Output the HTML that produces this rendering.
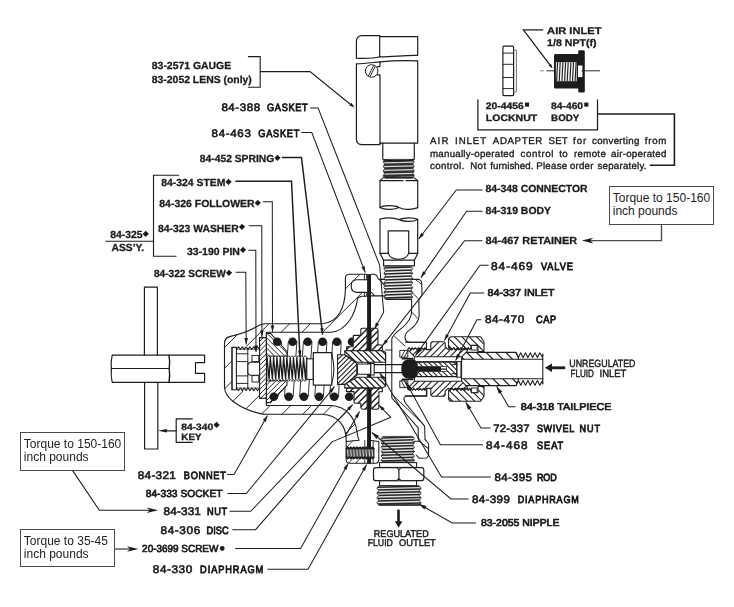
<!DOCTYPE html>
<html lang="en">
<head>
<meta charset="utf-8">
<title>Fluid Regulator Parts Diagram</title>
<style>
html,body{margin:0;padding:0;background:#fff;}
body{width:734px;height:607px;overflow:hidden;position:relative;font-family:"Liberation Sans",sans-serif;}
svg{display:block;position:absolute;left:0;top:0;}
.tq{position:absolute;box-sizing:border-box;border:1.1px solid #4a4a4a;background:#fff;}
.tq p{position:absolute;left:3px;margin:0;white-space:nowrap;font-size:12px;color:#222;}
text{white-space:pre;text-rendering:geometricPrecision;}
</style>
</head>
<body>
<svg width="734" height="607" viewBox="0 0 734 607">
<rect x="0" y="0" width="734" height="607" fill="#ffffff"/>
<g id="diagram" style="opacity:0.999">
<path d="M356.4,58.2 L356.4,41.5 Q356.4,35.8 362.5,35.7 L379.7,35.7 L379.7,36.6 L417.7,36.6 L417.7,55.4 C405,55.0 392,57.0 379.7,56.8 C372,58.8 364,58.6 356.4,58.2 Z" fill="none" stroke="#1c1c1c" stroke-width="1.18" stroke-linejoin="round" stroke-linecap="round" />
<path d="M379.7,36.0 L379.7,56.8" fill="none" stroke="#1c1c1c" stroke-width="1.18" stroke-linejoin="round" stroke-linecap="round" />
<path d="M356.4,63.8 C364,63.6 372,62.6 379.9,61.9 C392,60.6 405,60.4 417.7,60.9 L417.7,143.2 L380.0,143.2 L380.0,144.6 L362.0,144.6 Q356.4,144.4 356.4,139.0 Z" fill="none" stroke="#1c1c1c" stroke-width="1.18" stroke-linejoin="round" stroke-linecap="round" />
<path d="M380.0,62.0 L380.0,66.6 L377.0,66.6 M377.2,74.9 L380.0,74.9 L380.0,143.5" fill="none" stroke="#1c1c1c" stroke-width="1.18" stroke-linejoin="round" stroke-linecap="round" />
<circle cx="371.6" cy="71.0" r="6.3" fill="#fff" stroke="#1c1c1c" stroke-width="1.0"/>
<path d="M368.6,75.6 L373.4,66.0 M370.2,76.4 L375.0,66.8" fill="none" stroke="#1c1c1c" stroke-width="0.94" stroke-linejoin="round" stroke-linecap="round" />
<path d="M382.8,143.2 L382.8,158.8 M414.3,143.2 L414.3,158.8" fill="none" stroke="#1c1c1c" stroke-width="1.18" stroke-linejoin="round" stroke-linecap="round" />
<clipPath id="v1"><path d="M384.6,159.4L383.2,161.7L384.6,164.1L383.2,166.4L384.6,168.7L383.2,171.0L384.6,173.3L383.2,175.7L384.6,178.0L412.8,178.0L414.2,175.7L412.8,173.3L414.2,171.0L412.8,168.7L414.2,166.4L412.8,164.0L414.2,161.7L412.8,159.4Z"/></clipPath>
<path d="M384.6,159.4L383.2,161.7L384.6,164.1L383.2,166.4L384.6,168.7L383.2,171.0L384.6,173.3L383.2,175.7L384.6,178.0L412.8,178.0L414.2,175.7L412.8,173.3L414.2,171.0L412.8,168.7L414.2,166.4L412.8,164.0L414.2,161.7L412.8,159.4Z" fill="#d8d8d8" stroke="#1c1c1c" stroke-width="0.8" stroke-linejoin="round"/>
<path d="M383.2,161.1L414.2,160.3M383.2,164.8L414.2,164.0M383.2,168.5L414.2,167.7M383.2,172.3L414.2,171.5M383.2,176.0L414.2,175.2M383.2,179.7L414.2,178.9" clip-path="url(#v1)" fill="none" stroke="#303030" stroke-width="2.50"/>
<path d="M384.6,177.7L412.8,177.7" fill="none" stroke="#1c1c1c" stroke-width="1.3"/>
<path d="M383.2,159.6 Q398.5,162.6 414.0,159.4" fill="none" stroke="#1c1c1c" stroke-width="1.18" stroke-linejoin="round" stroke-linecap="round" />
<path d="M383.4,177.6 L380.0,180.6 L380.0,207.6 M414.0,177.6 L417.7,180.6 L417.7,207.8" fill="none" stroke="#1c1c1c" stroke-width="1.18" stroke-linejoin="round" stroke-linecap="round" />
<path d="M380.0,180.6 L403,180.6 M406,180.6 L417.7,180.6" fill="none" stroke="#1c1c1c" stroke-width="1.18" stroke-linejoin="round" stroke-linecap="round" />
<path d="M380.0,207.6 C383,205.2 395,205.0 399.0,207.4 C404,210.2 413,209.8 417.7,207.6 M380.0,207.6 C384,210.0 394,210.0 399.0,207.4" fill="none" stroke="#1c1c1c" stroke-width="1.18" stroke-linejoin="round" stroke-linecap="round" />
<path d="M380.0,219.2 C386,217.6 394,217.8 399.2,219.6 C404,217.2 414,217.4 417.7,219.4 M399.2,219.6 C404,222.0 413,222.0 417.7,219.4" fill="none" stroke="#1c1c1c" stroke-width="1.18" stroke-linejoin="round" stroke-linecap="round" />
<path d="M380.0,219.2 L380.0,253.4 L383.6,260.2 L414.4,260.2 L417.7,253.4 L417.7,219.4" fill="none" stroke="#1c1c1c" stroke-width="1.18" stroke-linejoin="round" stroke-linecap="round" />
<path d="M380.0,253.4 L388.2,253.4 M408.7,253.4 L417.7,253.4" fill="none" stroke="#1c1c1c" stroke-width="1.18" stroke-linejoin="round" stroke-linecap="round" />
<path d="M388.2,253.4 L388.2,230.8 L408.7,230.8 L408.7,253.4" fill="none" stroke="#1c1c1c" stroke-width="1.18" stroke-linejoin="round" stroke-linecap="round" />
<path d="M388.2,253.4 C391,261.2 406,261.2 408.7,253.4" fill="none" stroke="#1c1c1c" stroke-width="1.18" stroke-linejoin="round" stroke-linecap="round" />
<path d="M383.6,260.2 L383.6,265.8 L414.4,265.8 L414.4,260.2" fill="none" stroke="#1c1c1c" stroke-width="1.18" stroke-linejoin="round" stroke-linecap="round" />
<clipPath id="v2"><path d="M385.7,266.3L383.8,268.7L385.7,271.0L383.8,273.4L385.7,275.8L383.8,278.2L385.7,280.5L383.8,282.9L385.7,285.3L383.8,287.6L385.7,290.0L383.8,292.4L385.7,294.8L383.8,297.1L385.7,299.5L410.9,299.5L412.8,297.1L410.9,294.8L412.8,292.4L410.9,290.0L412.8,287.6L410.9,285.3L412.8,282.9L410.9,280.5L412.8,278.2L410.9,275.8L412.8,273.4L410.9,271.0L412.8,268.7L410.9,266.3Z"/></clipPath>
<path d="M385.7,266.3L383.8,268.7L385.7,271.0L383.8,273.4L385.7,275.8L383.8,278.2L385.7,280.5L383.8,282.9L385.7,285.3L383.8,287.6L385.7,290.0L383.8,292.4L385.7,294.8L383.8,297.1L385.7,299.5L410.9,299.5L412.8,297.1L410.9,294.8L412.8,292.4L410.9,290.0L412.8,287.6L410.9,285.3L412.8,282.9L410.9,280.5L412.8,278.2L410.9,275.8L412.8,273.4L410.9,271.0L412.8,268.7L410.9,266.3Z" fill="#f2f2f2" stroke="#1c1c1c" stroke-width="0.8" stroke-linejoin="round"/>
<path d="M383.8,267.9L412.8,266.9M383.8,270.9L412.8,269.9M383.8,273.9L412.8,272.9M383.8,276.9L412.8,275.9M383.8,279.9L412.8,278.9M383.8,282.9L412.8,281.9M383.8,286.0L412.8,285.0M383.8,289.0L412.8,288.0M383.8,292.0L412.8,291.0M383.8,295.0L412.8,294.0M383.8,298.0L412.8,297.0M383.8,301.1L412.8,300.1" clip-path="url(#v2)" fill="none" stroke="#262626" stroke-width="1.50"/>
<path d="M385.7,299.2L410.9,299.2" fill="none" stroke="#1c1c1c" stroke-width="1.3"/>
<path d="M144.4,355.2 L144.4,287.2 L157.4,287.2 L157.4,355.2" fill="none" stroke="#1c1c1c" stroke-width="1.18" stroke-linejoin="round" stroke-linecap="round" />
<path d="M144.6,382.3 L144.6,449.0 L157.8,449.0 L157.8,382.3" fill="none" stroke="#1c1c1c" stroke-width="1.18" stroke-linejoin="round" stroke-linecap="round" />
<path d="M112.2,355.2 L204.6,355.2 L204.6,362.7 L195.5,362.7 L195.5,373.4 L204.6,373.4 L204.6,382.3 L112.2,382.3 Q110.6,375.5 111.4,368.6 Q110.6,361.5 112.2,355.2 Z" fill="none" stroke="#1c1c1c" stroke-width="1.18" stroke-linejoin="round" stroke-linecap="round" />
<path d="M111.4,368.5 L169.0,368.5" fill="none" stroke="#1c1c1c" stroke-width="1.18" stroke-linejoin="round" stroke-linecap="round" />
<path d="M169.0,355.2 Q170.2,361.8 169.2,368.5 Q170.2,375.4 169.0,382.3" fill="none" stroke="#1c1c1c" stroke-width="1.42" stroke-linejoin="round" stroke-linecap="round" />
<path d="M192.2,418.9 L176.2,418.9 L176.2,442.4 L192.2,442.4" fill="none" stroke="#1c1c1c" stroke-width="1.18" stroke-linejoin="round" stroke-linecap="round" />
<path d="M176.2,430.8 L165,430.8" fill="none" stroke="#1c1c1c" stroke-width="1.18" stroke-linejoin="round" stroke-linecap="round" />
<path d="M157.9,430.8 L166.9,429.1 L166.9,432.5 Z" fill="#1c1c1c"/>
<clipPath id="h3"><path d="M366.8,274.2 L349.0,274.2 Q345.4,274.4 345.4,278.4 L345.4,289.6 C345.0,308 338,323 322.0,323.7 L265.0,323.7 Q260.0,324.0 256.0,327.0 C248,332.0 238,334.6 229.6,336.6 Q224.5,338.2 224.5,343.5 L224.5,387.0 Q224.8,394.8 232.8,401.2 C242,408.2 252,411.8 260.3,413.6 Q263,414.3 267,414.3 L322.0,414.3 C338,415.0 346.2,426 346.2,440.0 L346.2,441.5 L359.0,440.2 Q357.4,436 357.0,432.0 C355.0,417 346,406.2 331.0,405.5 L266.4,405.5 L266.4,398.2 L259.6,398.2 L259.6,389.8 L232.0,389.8 L232.0,347.4 L259.6,347.4 L259.6,337.6 L266.4,337.6 L266.4,332.2 L331.0,332.2 C346,331.0 355.5,315 357.6,298.0 L361.5,296.2 L366.8,296.2 L366.8,292.4 L356.6,292.4 Q351.2,292.0 351.2,286.0 Q351.2,280.0 356.6,279.8 L366.8,279.8 Z"/></clipPath>
<path d="M366.8,274.2 L349.0,274.2 Q345.4,274.4 345.4,278.4 L345.4,289.6 C345.0,308 338,323 322.0,323.7 L265.0,323.7 Q260.0,324.0 256.0,327.0 C248,332.0 238,334.6 229.6,336.6 Q224.5,338.2 224.5,343.5 L224.5,387.0 Q224.8,394.8 232.8,401.2 C242,408.2 252,411.8 260.3,413.6 Q263,414.3 267,414.3 L322.0,414.3 C338,415.0 346.2,426 346.2,440.0 L346.2,441.5 L359.0,440.2 Q357.4,436 357.0,432.0 C355.0,417 346,406.2 331.0,405.5 L266.4,405.5 L266.4,398.2 L259.6,398.2 L259.6,389.8 L232.0,389.8 L232.0,347.4 L259.6,347.4 L259.6,337.6 L266.4,337.6 L266.4,332.2 L331.0,332.2 C346,331.0 355.5,315 357.6,298.0 L361.5,296.2 L366.8,296.2 L366.8,292.4 L356.6,292.4 Q351.2,292.0 351.2,286.0 Q351.2,280.0 356.6,279.8 L366.8,279.8 Z" fill="#fff" stroke="none"/>
<path d="M135.1,354.1L291.9,197.3M145.5,364.5L302.3,207.7M155.8,374.8L312.6,218.0M166.2,385.2L323.0,228.4M176.5,395.5L333.3,238.7M186.9,405.9L343.7,249.1M197.2,416.2L354.0,259.4M207.6,426.6L364.4,269.8M217.9,436.9L374.7,280.1M228.3,447.3L385.1,290.5M238.6,457.6L395.4,300.8M249.0,468.0L405.8,311.2M259.3,478.3L416.1,321.5M269.7,488.7L426.5,331.9M280.0,499.0L436.8,342.2M290.4,509.4L447.2,352.6" clip-path="url(#h3)" fill="none" stroke="#1c1c1c" stroke-width="0.94"/>
<path d="M366.8,274.2 L349.0,274.2 Q345.4,274.4 345.4,278.4 L345.4,289.6 C345.0,308 338,323 322.0,323.7 L265.0,323.7 Q260.0,324.0 256.0,327.0 C248,332.0 238,334.6 229.6,336.6 Q224.5,338.2 224.5,343.5 L224.5,387.0 Q224.8,394.8 232.8,401.2 C242,408.2 252,411.8 260.3,413.6 Q263,414.3 267,414.3 L322.0,414.3 C338,415.0 346.2,426 346.2,440.0 L346.2,441.5 L359.0,440.2 Q357.4,436 357.0,432.0 C355.0,417 346,406.2 331.0,405.5 L266.4,405.5 L266.4,398.2 L259.6,398.2 L259.6,389.8 L232.0,389.8 L232.0,347.4 L259.6,347.4 L259.6,337.6 L266.4,337.6 L266.4,332.2 L331.0,332.2 C346,331.0 355.5,315 357.6,298.0 L361.5,296.2 L366.8,296.2 L366.8,292.4 L356.6,292.4 Q351.2,292.0 351.2,286.0 Q351.2,280.0 356.6,279.8 L366.8,279.8 Z" fill="none" stroke="#1c1c1c" stroke-width="1.12" stroke-linejoin="round"/>
<path d="M232.0,347.4 L232.0,389.8" fill="none" stroke="#1c1c1c" stroke-width="0.94" stroke-linejoin="round" stroke-linecap="round" />
<rect x="236.4" y="346.0" width="23.2" height="45" fill="#fff"/>
<path d="M236.6,349.4L238.5,346.8L240.4,349.4L242.3,346.8L244.2,349.4L246.1,346.8L248.0,349.4L249.9,346.8L251.8,349.4L253.7,346.8L255.6,349.4L257.5,346.8L259.4,349.4" fill="none" stroke="#1c1c1c" stroke-width="1.06" stroke-linejoin="round" stroke-linecap="round" />
<path d="M236.6,388.0L238.5,390.6L240.4,388.0L242.3,390.6L244.2,388.0L246.1,390.6L248.0,388.0L249.9,390.6L251.8,388.0L253.7,390.6L255.6,388.0L257.5,390.6L259.4,388.0" fill="none" stroke="#1c1c1c" stroke-width="1.06" stroke-linejoin="round" stroke-linecap="round" />
<path d="M236.4,347.4 L236.4,389.8" fill="none" stroke="#1c1c1c" stroke-width="1.06" stroke-linejoin="round" stroke-linecap="round" />
<path d="M236.4,353.8 L247.8,353.8 M236.4,361.6 L247.8,361.6 M236.4,375.9 L247.8,375.9 M236.4,383.4 L247.8,383.4 M247.8,349.6 L247.8,387.8" fill="none" stroke="#1c1c1c" stroke-width="0.94" stroke-linejoin="round" stroke-linecap="round" />
<path d="M236.6,349.4 L259.4,349.4 M236.6,388.0 L259.4,388.0" fill="none" stroke="#1c1c1c" stroke-width="0.59" stroke-linejoin="round" stroke-linecap="round" />
<rect x="252.0" y="355.4" width="6.8" height="6.2" rx="0" fill="#fff" stroke="#1c1c1c" stroke-width="0.94"/>
<rect x="252.0" y="375.6" width="6.8" height="6.4" rx="0" fill="#fff" stroke="#1c1c1c" stroke-width="0.94"/>
<path d="M267,362.2 L250.6,362.2 Q247.9,362.6 247.9,365.0 L247.9,372.6 Q247.9,375.0 250.6,375.2 L267,375.2" fill="#fff" stroke="#1c1c1c" stroke-width="1.06" stroke-linejoin="round" stroke-linecap="round" />
<clipPath id="h4"><path d="M259.6,337.6 L266.4,337.6 L266.4,398.2 L259.6,398.2 Z"/></clipPath>
<path d="M259.6,337.6 L266.4,337.6 L266.4,398.2 L259.6,398.2 Z" fill="#fff" stroke="none"/>
<path d="M225.4,366.0L261.1,330.3M227.8,368.4L263.5,332.7M230.2,370.8L265.9,335.1M232.6,373.2L268.3,337.5M235.0,375.6L270.7,339.9M237.4,378.0L273.1,342.3M239.8,380.4L275.5,344.7M242.2,382.8L277.9,347.1M244.6,385.2L280.3,349.5M247.0,387.6L282.7,351.9M249.5,390.1L285.2,354.4M251.9,392.5L287.6,356.8M254.3,394.9L290.0,359.2M256.7,397.3L292.4,361.6M259.1,399.7L294.8,364.0M261.5,402.1L297.2,366.4" clip-path="url(#h4)" fill="none" stroke="#1c1c1c" stroke-width="0.94"/>
<path d="M259.6,337.6 L266.4,337.6 L266.4,398.2 L259.6,398.2 Z" fill="none" stroke="#1c1c1c" stroke-width="1.06" stroke-linejoin="round"/>
<path d="M272.9,341.7 L269.5,396.8 L278.1,396.8 L281.5,341.7 Z" fill="#fff" stroke="#1c1c1c" stroke-width="0.9"/>
<path d="M288.3,341.7 L284.5,396.8 L293.1,396.8 L296.9,341.7 Z" fill="#fff" stroke="#1c1c1c" stroke-width="0.9"/>
<path d="M303.4,341.7 L299.6,396.8 L308.2,396.8 L312.0,341.7 Z" fill="#fff" stroke="#1c1c1c" stroke-width="0.9"/>
<path d="M318.3,341.7 L314.8,396.8 L323.4,396.8 L326.9,341.7 Z" fill="#fff" stroke="#1c1c1c" stroke-width="0.9"/>
<path d="M332.6,341.7 L329.9,396.8 L338.5,396.8 L341.2,341.7 Z" fill="#fff" stroke="#1c1c1c" stroke-width="0.9"/>
<clipPath id="h5"><path d="M266.4,333.4 L270.5,333.4 L287.0,351.5 L287.0,356.2 L266.4,356.2 Z"/></clipPath>
<path d="M266.4,333.4 L270.5,333.4 L287.0,351.5 L287.0,356.2 L266.4,356.2 Z" fill="#fff" stroke="none"/>
<path d="M278.5,319.3L302.2,343.0M276.0,321.8L299.7,345.5M273.4,324.4L297.1,348.1M270.9,326.9L294.6,350.6M268.4,329.4L292.1,353.1M265.8,332.0L289.5,355.7M263.3,334.5L287.0,358.2M260.7,337.1L284.4,360.8M258.2,339.6L281.9,363.3M255.6,342.2L279.3,365.9M253.1,344.7L276.8,368.4" clip-path="url(#h5)" fill="none" stroke="#1c1c1c" stroke-width="0.94"/>
<path d="M266.4,333.4 L270.5,333.4 L287.0,351.5 L287.0,356.2 L266.4,356.2 Z" fill="none" stroke="#1c1c1c" stroke-width="1.06" stroke-linejoin="round"/>
<clipPath id="h6"><path d="M266.4,402.6 L270.5,402.6 L287.0,385.2 L287.0,380.6 L266.4,380.6 Z"/></clipPath>
<path d="M266.4,402.6 L270.5,402.6 L287.0,385.2 L287.0,380.6 L266.4,380.6 Z" fill="#fff" stroke="none"/>
<path d="M251.6,389.8L274.9,366.5M254.2,392.4L277.5,369.1M256.7,394.9L280.0,371.6M259.3,397.5L282.6,374.2M261.8,400.0L285.1,376.7M264.4,402.6L287.7,379.3M266.9,405.1L290.2,381.8M269.5,407.7L292.8,384.4M272.0,410.2L295.3,386.9M274.6,412.8L297.9,389.5" clip-path="url(#h6)" fill="none" stroke="#1c1c1c" stroke-width="0.94"/>
<path d="M266.4,402.6 L270.5,402.6 L287.0,385.2 L287.0,380.6 L266.4,380.6 Z" fill="none" stroke="#1c1c1c" stroke-width="1.06" stroke-linejoin="round"/>
<circle cx="277.2" cy="341.7" r="4.3" fill="#1c1c1c" stroke="none" stroke-width="0"/>
<circle cx="292.6" cy="341.7" r="4.3" fill="#1c1c1c" stroke="none" stroke-width="0"/>
<circle cx="307.7" cy="341.7" r="4.3" fill="#1c1c1c" stroke="none" stroke-width="0"/>
<circle cx="322.6" cy="341.7" r="4.3" fill="#1c1c1c" stroke="none" stroke-width="0"/>
<circle cx="336.9" cy="341.7" r="4.3" fill="#1c1c1c" stroke="none" stroke-width="0"/>
<circle cx="352.0" cy="341.7" r="4.3" fill="#1c1c1c" stroke="none" stroke-width="0"/>
<circle cx="273.8" cy="396.8" r="4.3" fill="#1c1c1c" stroke="none" stroke-width="0"/>
<circle cx="288.8" cy="396.8" r="4.3" fill="#1c1c1c" stroke="none" stroke-width="0"/>
<circle cx="303.9" cy="396.8" r="4.3" fill="#1c1c1c" stroke="none" stroke-width="0"/>
<circle cx="319.1" cy="396.8" r="4.3" fill="#1c1c1c" stroke="none" stroke-width="0"/>
<circle cx="334.2" cy="396.8" r="4.3" fill="#1c1c1c" stroke="none" stroke-width="0"/>
<circle cx="349.2" cy="396.8" r="4.3" fill="#1c1c1c" stroke="none" stroke-width="0"/>
<path d="M267.0,357.4L268.7,355.6L270.3,357.4L272.0,355.6L273.6,357.4L275.3,355.6L276.9,357.4L278.6,355.6L280.3,357.4L281.9,355.6L283.6,357.4L285.2,355.6L286.9,357.4L288.6,355.6L290.2,357.4L291.9,355.6L293.5,357.4L295.2,355.6L296.9,357.4L298.5,355.6L300.2,357.4L301.8,355.6L303.5,357.4L305.1,355.6L306.8,357.4L306.8,379.6L305.1,381.4L303.5,379.6L301.8,381.4L300.2,379.6L298.5,381.4L296.9,379.6L295.2,381.4L293.5,379.6L291.9,381.4L290.2,379.6L288.6,381.4L286.9,379.6L285.2,381.4L283.6,379.6L281.9,381.4L280.3,379.6L278.6,381.4L276.9,379.6L275.3,381.4L273.6,379.6L272.0,381.4L270.3,379.6L268.7,381.4L267.0,379.6Z" fill="#fff" stroke="#1c1c1c" stroke-width="0.9"/>
<path d="M267.0,357.6L269.1,379.2L270.3,357.6L272.4,379.2L273.6,357.6L275.7,379.2L276.9,357.6L279.0,379.2L280.3,357.6L282.3,379.2L283.6,357.6L285.6,379.2L286.9,357.6L289.0,379.2L290.2,357.6L292.3,379.2L293.5,357.6L295.6,379.2L296.9,357.6L298.9,379.2L300.2,357.6L302.2,379.2L303.5,357.6L305.5,379.2L306.8,357.6" fill="none" stroke="#1c1c1c" stroke-width="1.3" stroke-linejoin="round"/>
<rect x="306.8" y="358.8" width="6.5" height="20.6" rx="0" fill="#fff" stroke="#1c1c1c" stroke-width="1.06"/>
<path d="M313.3,352.6 L331.7,352.6 L331.7,385.2 L313.3,385.2 Z" fill="#fff" stroke="#1c1c1c" stroke-width="1.18" stroke-linejoin="round" stroke-linecap="round" />
<path d="M331.7,354.5 Q336.0,369 331.7,383.5" fill="#fff" stroke="#1c1c1c" stroke-width="1.06" stroke-linejoin="round" stroke-linecap="round" />
<path d="M371.0,274.2 L374.6,274.2 Q377.4,275.2 377.8,278.0 L379.0,279.4 L384.6,279.4 M379.4,279.4 L384.4,285.4 M371.2,295.9 L385.0,295.9 M371.4,292.4 L374.8,295.9" fill="none" stroke="#1c1c1c" stroke-width="1.06" stroke-linejoin="round" stroke-linecap="round" />
<path d="M412.0,279.4 L419.2,279.4 Q421.6,280.2 421.7,282.6 L422.0,295.2 L418.8,299.6 L419.2,315.8 C418.6,322 415.5,325.6 410.0,329.6 C406.5,332 404.8,334.4 405.0,337.6 Q405.4,342.0 409.6,342.2 L424.8,342.2" fill="none" stroke="#1c1c1c" stroke-width="1.06" stroke-linejoin="round" stroke-linecap="round" />
<path d="M416.2,280.0 L421.6,284.4 M411.2,291.6 L417.8,298.2 M411.6,312.0 L417.4,318.2" fill="none" stroke="#1c1c1c" stroke-width="0.94" stroke-linejoin="round" stroke-linecap="round" />
<path d="M411.6,299.4 L411.6,312.0 C411.2,320 406,324.6 402.0,327.8 C396,332.4 392.2,335.4 391.8,339.0 L391.8,398.0 L418.2,427.8 L418.2,438.6" fill="none" stroke="#1c1c1c" stroke-width="1.06" stroke-linejoin="round" stroke-linecap="round" />
<path d="M391.9,394.2 L423.9,424.9" fill="none" stroke="#1c1c1c" stroke-width="0.94" stroke-linejoin="round" stroke-linecap="round" />
<path d="M426.8,389.2 L426.8,396.2 L407.0,396.2 Q403.6,396.6 404.0,399.4 Q404.4,402.0 407.0,405.0 L424.6,426.2 L425.1,439.8" fill="none" stroke="#1c1c1c" stroke-width="1.06" stroke-linejoin="round" stroke-linecap="round" />
<path d="M394.6,336.4 L405.0,346.0" fill="none" stroke="#1c1c1c" stroke-width="0.94" stroke-linejoin="round" stroke-linecap="round" />
<path d="M414.3,441.2 L419.2,441.2 L427.6,448.1 M425.1,439.7 L426.6,441.2 L428.6,443.8 L428.6,455.5 L426.6,458.0 L419.2,458.2 L416.2,455.0" fill="none" stroke="#1c1c1c" stroke-width="1.06" stroke-linejoin="round" stroke-linecap="round" />
<path d="M418.2,438.4 L419.2,441.2" fill="none" stroke="#1c1c1c" stroke-width="0.94" stroke-linejoin="round" stroke-linecap="round" />
<path d="M364.4,274.4 L364.4,279.8 M364.4,292.4 L364.4,296.2" fill="none" stroke="#1c1c1c" stroke-width="0.94" stroke-linejoin="round" stroke-linecap="round" />
<rect x="367.1" y="274.2" width="3.9" height="189.4" fill="#1c1c1c"/>
<path d="M346.2,441.4 L346.2,460.0 Q346.4,463.2 349.6,463.2 L375.6,463.2 Q378.8,463.0 378.8,460.0 L378.8,441.6 L371.0,440.4" fill="none" stroke="#1c1c1c" stroke-width="1.06" stroke-linejoin="round" stroke-linecap="round" />
<path d="M364.8,440.4 L364.8,463.0 M373.2,440.6 L373.2,463.0" fill="none" stroke="#1c1c1c" stroke-width="0.83" stroke-linejoin="round" stroke-linecap="round" />
<path d="M349.0,463.0 L358.0,452.0 M356.0,463.0 L362.0,456.0 M347.0,447.0 L352.8,440.6" fill="none" stroke="#1c1c1c" stroke-width="0.83" stroke-linejoin="round" stroke-linecap="round" />
<rect x="346.2" y="448.4" width="27.8" height="9.0" fill="#4a4a4a" stroke="#1c1c1c" stroke-width="0.9"/>
<path d="M347.6,449.6L348.2,456.4M350.7,449.6L351.3,456.4M353.7,449.6L354.3,456.4M356.8,449.6L357.4,456.4M359.8,449.6L360.4,456.4M362.9,449.6L363.5,456.4M365.9,449.6L366.5,456.4M369.0,449.6L369.6,456.4M372.0,449.6L372.6,456.4" stroke="#c8c8c8" stroke-width="1.1" fill="none"/>
<path d="M346.2,448.4L347.7,446.9L349.3,448.4L350.8,446.9L352.4,448.4L353.9,446.9L355.5,448.4L357.0,446.9L358.6,448.4L360.1,446.9L361.6,448.4L363.1,446.9L364.7,448.4L366.2,446.9L367.8,448.4L369.3,446.9L370.9,448.4L372.4,446.9L374.0,448.4" fill="#1c1c1c" stroke="#1c1c1c" stroke-width="1.06" stroke-linejoin="round" stroke-linecap="round" />
<path d="M346.2,457.4L347.7,458.9L349.3,457.4L350.8,458.9L352.4,457.4L353.9,458.9L355.5,457.4L357.0,458.9L358.6,457.4L360.1,458.9L361.6,457.4L363.1,458.9L364.7,457.4L366.2,458.9L367.8,457.4L369.3,458.9L370.9,457.4L372.4,458.9L374.0,457.4" fill="#1c1c1c" stroke="#1c1c1c" stroke-width="1.06" stroke-linejoin="round" stroke-linecap="round" />
<rect x="367.1" y="440" width="3.9" height="9" fill="#1c1c1c"/>
<clipPath id="h7"><path d="M337.6,354.8 L345.0,354.8 L356.8,363.6 L356.8,375.4 L345.0,384.4 L337.6,384.4 Z"/></clipPath>
<path d="M337.6,354.8 L345.0,354.8 L356.8,363.6 L356.8,375.4 L345.0,384.4 L337.6,384.4 Z" fill="#fff" stroke="none"/>
<path d="M319.4,368.2L345.8,341.8M321.8,370.6L348.2,344.2M324.2,373.0L350.6,346.6M326.6,375.4L353.0,349.0M329.0,377.8L355.4,351.4M331.4,380.2L357.8,353.8M333.8,382.6L360.2,356.2M336.2,385.0L362.6,358.6M338.6,387.4L365.0,361.0M341.0,389.8L367.4,363.4M343.4,392.2L369.8,365.8M345.8,394.6L372.2,368.2" clip-path="url(#h7)" fill="none" stroke="#1c1c1c" stroke-width="1.06"/>
<path d="M337.6,354.8 L345.0,354.8 L356.8,363.6 L356.8,375.4 L345.0,384.4 L337.6,384.4 Z" fill="none" stroke="#1c1c1c" stroke-width="1.06" stroke-linejoin="round"/>
<clipPath id="h8"><path d="M346.6,350.7 L346.6,346.8 L353.2,346.8 L353.2,336.2 Q353.4,335.4 354.4,335.4 L360.8,335.4 L360.8,329.4 Q361.0,328.2 362.4,328.2 L367.1,328.2 L367.1,350.7 Z"/></clipPath>
<path d="M346.6,350.7 L346.6,346.8 L353.2,346.8 L353.2,336.2 Q353.4,335.4 354.4,335.4 L360.8,335.4 L360.8,329.4 Q361.0,328.2 362.4,328.2 L367.1,328.2 L367.1,350.7 Z" fill="#fff" stroke="none"/>
<path d="M332.0,338.1L355.5,314.6M335.2,341.3L358.7,317.8M338.5,344.6L362.0,321.1M341.7,347.8L365.2,324.3M345.0,351.1L368.5,327.6M348.2,354.3L371.7,330.8M351.5,357.6L375.0,334.1M354.7,360.8L378.2,337.3" clip-path="url(#h8)" fill="none" stroke="#1c1c1c" stroke-width="1.42"/>
<path d="M346.6,350.7 L346.6,346.8 L353.2,346.8 L353.2,336.2 Q353.4,335.4 354.4,335.4 L360.8,335.4 L360.8,329.4 Q361.0,328.2 362.4,328.2 L367.1,328.2 L367.1,350.7 Z" fill="none" stroke="#1c1c1c" stroke-width="1.06" stroke-linejoin="round"/>
<clipPath id="h9"><path d="M371.0,328.2 L376.6,328.2 Q378.0,328.4 378.0,329.8 L378.0,345.0 L382.3,345.0 L382.3,350.7 L371.0,350.7 Z"/></clipPath>
<path d="M371.0,328.2 L376.6,328.2 Q378.0,328.4 378.0,329.8 L378.0,345.0 L382.3,345.0 L382.3,350.7 L371.0,350.7 Z" fill="#fff" stroke="none"/>
<path d="M357.2,338.9L376.1,320.0M360.4,342.1L379.3,323.2M363.7,345.4L382.6,326.5M366.9,348.6L385.8,329.7M370.2,351.9L389.1,333.0M373.5,355.2L392.4,336.3" clip-path="url(#h9)" fill="none" stroke="#1c1c1c" stroke-width="1.42"/>
<path d="M371.0,328.2 L376.6,328.2 Q378.0,328.4 378.0,329.8 L378.0,345.0 L382.3,345.0 L382.3,350.7 L371.0,350.7 Z" fill="none" stroke="#1c1c1c" stroke-width="1.06" stroke-linejoin="round"/>
<clipPath id="h10"><path d="M346.6,387.9 L346.6,391.6 L354.0,391.6 L354.0,402.4 Q354.2,403.2 355.2,403.2 L360.8,403.2 L360.8,407.6 Q361.2,409.2 363.0,409.2 L365.4,409.2 Q367.0,409.0 367.1,407.6 L367.1,387.9 Z"/></clipPath>
<path d="M346.6,387.9 L346.6,391.6 L354.0,391.6 L354.0,402.4 Q354.2,403.2 355.2,403.2 L360.8,403.2 L360.8,407.6 Q361.2,409.2 363.0,409.2 L365.4,409.2 Q367.0,409.0 367.1,407.6 L367.1,387.9 Z" fill="#fff" stroke="none"/>
<path d="M332.0,396.6L354.9,373.7M335.3,399.9L358.2,377.0M338.5,403.1L361.4,380.2M341.8,406.4L364.7,383.5M345.0,409.6L367.9,386.7M348.3,412.9L371.2,390.0M351.5,416.1L374.4,393.2M354.8,419.4L377.7,396.5" clip-path="url(#h10)" fill="none" stroke="#1c1c1c" stroke-width="1.42"/>
<path d="M346.6,387.9 L346.6,391.6 L354.0,391.6 L354.0,402.4 Q354.2,403.2 355.2,403.2 L360.8,403.2 L360.8,407.6 Q361.2,409.2 363.0,409.2 L365.4,409.2 Q367.0,409.0 367.1,407.6 L367.1,387.9 Z" fill="none" stroke="#1c1c1c" stroke-width="1.06" stroke-linejoin="round"/>
<clipPath id="h11"><path d="M371.0,387.9 L371.0,407.6 Q371.2,409.2 373.0,409.2 L376.8,409.2 Q378.8,409.0 378.9,407.6 L378.9,391.8 L382.3,391.8 L382.3,387.9 Z"/></clipPath>
<path d="M371.0,387.9 L371.0,407.6 Q371.2,409.2 373.0,409.2 L376.8,409.2 Q378.8,409.0 378.9,407.6 L378.9,391.8 L382.3,391.8 L382.3,387.9 Z" fill="#fff" stroke="none"/>
<path d="M357.2,397.4L375.5,379.1M360.5,400.7L378.8,382.4M363.7,403.9L382.0,385.6M367.0,407.2L385.3,388.9M370.2,410.4L388.5,392.1M373.5,413.7L391.8,395.4" clip-path="url(#h11)" fill="none" stroke="#1c1c1c" stroke-width="1.42"/>
<path d="M371.0,387.9 L371.0,407.6 Q371.2,409.2 373.0,409.2 L376.8,409.2 Q378.8,409.0 378.9,407.6 L378.9,391.8 L382.3,391.8 L382.3,387.9 Z" fill="none" stroke="#1c1c1c" stroke-width="1.06" stroke-linejoin="round"/>
<clipPath id="h12"><path d="M344.6,350.7 L382.8,350.7 L385.6,352.4 L385.6,362.2 L356.8,362.2 L345.0,354.8 Z"/></clipPath>
<path d="M344.6,350.7 L382.8,350.7 L385.6,352.4 L385.6,362.2 L356.8,362.2 L345.0,354.8 Z" fill="#fff" stroke="none"/>
<path d="M365.3,328.0L393.6,356.2M362.2,331.1L390.5,359.3M359.1,334.2L387.3,362.5M356.0,337.3L384.2,365.6M352.9,340.4L381.1,368.7M349.8,343.5L378.0,371.8M346.7,346.6L374.9,374.9M343.5,349.8L371.8,378.0M340.4,352.9L368.7,381.1M337.3,356.0L365.6,384.2" clip-path="url(#h12)" fill="none" stroke="#1c1c1c" stroke-width="1.24"/>
<path d="M344.6,350.7 L382.8,350.7 L385.6,352.4 L385.6,362.2 L356.8,362.2 L345.0,354.8 Z" fill="none" stroke="#1c1c1c" stroke-width="1.06" stroke-linejoin="round"/>
<clipPath id="h13"><path d="M344.6,387.9 L382.4,387.9 L385.6,386.0 L385.6,377.2 L356.8,377.2 L345.0,384.4 Z"/></clipPath>
<path d="M344.6,387.9 L382.4,387.9 L385.6,386.0 L385.6,377.2 L356.8,377.2 L345.0,384.4 Z" fill="#fff" stroke="none"/>
<path d="M366.1,353.7L394.0,381.5M363.0,356.8L390.9,384.6M359.9,359.9L387.8,387.8M356.8,363.0L384.6,390.9M353.7,366.1L381.5,394.0M350.6,369.2L378.4,397.1M347.5,372.3L375.3,400.2M344.3,375.5L372.2,403.3M341.2,378.6L369.1,406.4M338.1,381.7L366.0,409.5" clip-path="url(#h13)" fill="none" stroke="#1c1c1c" stroke-width="1.24"/>
<path d="M344.6,387.9 L382.4,387.9 L385.6,386.0 L385.6,377.2 L356.8,377.2 L345.0,384.4 Z" fill="none" stroke="#1c1c1c" stroke-width="1.06" stroke-linejoin="round"/>
<path d="M357.4,364.0 L370.8,364.0 L370.8,374.2 L357.4,374.2 Z" fill="#fff" stroke="#1c1c1c" stroke-width="1.06" stroke-linejoin="round" stroke-linecap="round" />
<path d="M370.8,363.4 L374.2,363.4 L374.2,375.0 L370.8,375.0 Z" fill="#fff" stroke="#1c1c1c" stroke-width="1.06" stroke-linejoin="round" stroke-linecap="round" />
<path d="M374.2,364.6 L404.0,364.6 M374.2,372.6 L404.0,372.6" fill="none" stroke="#1c1c1c" stroke-width="1.06" stroke-linejoin="round" stroke-linecap="round" />
<path d="M385.6,352.4 L385.6,386.0 M391.8,350 L385.6,350" fill="none" stroke="#1c1c1c" stroke-width="0.94" stroke-linejoin="round" stroke-linecap="round" />
<path d="M405.4,342.2 L426.4,342.2 L426.4,348.6" fill="none" stroke="#1c1c1c" stroke-width="1.06" stroke-linejoin="round" stroke-linecap="round" />
<clipPath id="h14"><path d="M407.6,349.6L409.2,347.7L410.7,349.6L412.3,347.7L413.9,349.6L415.4,347.7L417.0,349.6L418.6,347.7L420.1,349.6L421.7,347.7L423.3,349.6L424.8,347.7L426.4,349.6L430.8,349.6 L430.8,343.4 Q431.0,341.8 432.8,341.7 L443.4,341.7 Q445.2,341.9 445.2,343.6 L445.2,347.0 L448.6,349.8L450.2,347.9L451.8,349.8L453.5,347.9L455.1,349.8L456.7,347.9L458.3,349.8L459.9,347.9L461.5,349.8L463.1,347.9L464.8,349.8L466.4,347.9L468.0,349.8L463.6,356.7 L414.4,356.7 Z"/></clipPath>
<path d="M407.6,349.6L409.2,347.7L410.7,349.6L412.3,347.7L413.9,349.6L415.4,347.7L417.0,349.6L418.6,347.7L420.1,349.6L421.7,347.7L423.3,349.6L424.8,347.7L426.4,349.6L430.8,349.6 L430.8,343.4 Q431.0,341.8 432.8,341.7 L443.4,341.7 Q445.2,341.9 445.2,343.6 L445.2,347.0 L448.6,349.8L450.2,347.9L451.8,349.8L453.5,347.9L455.1,349.8L456.7,347.9L458.3,349.8L459.9,347.9L461.5,349.8L463.1,347.9L464.8,349.8L466.4,347.9L468.0,349.8L463.6,356.7 L414.4,356.7 Z" fill="#fff" stroke="none"/>
<path d="M395.3,346.4L435.0,306.7M398.5,349.6L438.2,309.9M401.8,352.9L441.5,313.2M405.0,356.1L444.7,316.4M408.3,359.4L448.0,319.7M411.5,362.6L451.2,322.9M414.8,365.9L454.5,326.2M418.0,369.1L457.7,329.4M421.3,372.4L461.0,332.7M424.5,375.6L464.2,335.9M427.8,378.9L467.5,339.2M431.0,382.1L470.7,342.4M434.3,385.4L474.0,345.7M437.5,388.6L477.2,348.9" clip-path="url(#h14)" fill="none" stroke="#1c1c1c" stroke-width="1.06"/>
<path d="M407.6,349.6L409.2,347.7L410.7,349.6L412.3,347.7L413.9,349.6L415.4,347.7L417.0,349.6L418.6,347.7L420.1,349.6L421.7,347.7L423.3,349.6L424.8,347.7L426.4,349.6L430.8,349.6 L430.8,343.4 Q431.0,341.8 432.8,341.7 L443.4,341.7 Q445.2,341.9 445.2,343.6 L445.2,347.0 L448.6,349.8L450.2,347.9L451.8,349.8L453.5,347.9L455.1,349.8L456.7,347.9L458.3,349.8L459.9,347.9L461.5,349.8L463.1,347.9L464.8,349.8L466.4,347.9L468.0,349.8L463.6,356.7 L414.4,356.7 Z" fill="none" stroke="#1c1c1c" stroke-width="1.06" stroke-linejoin="round"/>
<clipPath id="h15"><path d="M448.6,348.0 L448.6,339.6 Q448.8,336.8 451.6,336.7 L480.6,336.7 L484.0,341.8 L484.0,351.6 L478.0,351.6 L478.0,345.2 L471.4,345.2 L470.0,349.8L468.2,347.6L466.4,349.8L464.6,347.6L462.8,349.8L461.0,347.6L459.2,349.8L457.4,347.6L455.6,349.8L453.8,347.6L452.0,349.8L450.2,347.6 Z"/></clipPath>
<path d="M448.6,348.0 L448.6,339.6 Q448.8,336.8 451.6,336.7 L480.6,336.7 L484.0,341.8 L484.0,351.6 L478.0,351.6 L478.0,345.2 L471.4,345.2 L470.0,349.8L468.2,347.6L466.4,349.8L464.6,347.6L462.8,349.8L461.0,347.6L459.2,349.8L457.4,347.6L455.6,349.8L453.8,347.6L452.0,349.8L450.2,347.6 Z" fill="#fff" stroke="none"/>
<path d="M468.9,314.4L496.0,341.6M465.2,318.1L492.3,345.3M461.5,321.8L488.7,348.9M457.8,325.5L485.0,352.6M454.2,329.1L481.3,356.3M450.5,332.8L477.6,360.0M446.8,336.5L474.0,363.6M443.1,340.2L470.3,367.3M439.5,343.8L466.6,371.0" clip-path="url(#h15)" fill="none" stroke="#1c1c1c" stroke-width="1.06"/>
<path d="M448.6,348.0 L448.6,339.6 Q448.8,336.8 451.6,336.7 L480.6,336.7 L484.0,341.8 L484.0,351.6 L478.0,351.6 L478.0,345.2 L471.4,345.2 L470.0,349.8L468.2,347.6L466.4,349.8L464.6,347.6L462.8,349.8L461.0,347.6L459.2,349.8L457.4,347.6L455.6,349.8L453.8,347.6L452.0,349.8L450.2,347.6 Z" fill="none" stroke="#1c1c1c" stroke-width="1.06" stroke-linejoin="round"/>
<rect x="471.6" y="345.4" width="5.6" height="4.6" rx="0" fill="#fff" stroke="#1c1c1c" stroke-width="0.94"/>
<clipPath id="h16"><path d="M461.6,359.3 L461.6,357.0 L466.0,352.4 L516.0,352.4 L518.4,357.4 L518.4,359.3 Z"/></clipPath>
<path d="M461.6,359.3 L461.6,357.0 L466.0,352.4 L516.0,352.4 L518.4,357.4 L518.4,359.3 Z" fill="#fff" stroke="none"/>
<path d="M492.4,319.6L526.3,353.4M487.5,324.5L521.4,358.3M482.7,329.3L516.5,363.2M477.8,334.2L511.6,368.1M472.9,339.1L506.7,373.0M468.0,344.0L501.9,377.8M463.1,348.9L497.0,382.7M458.3,353.7L492.1,387.6" clip-path="url(#h16)" fill="none" stroke="#1c1c1c" stroke-width="1.18"/>
<path d="M461.6,359.3 L461.6,357.0 L466.0,352.4 L516.0,352.4 L518.4,357.4 L518.4,359.3 Z" fill="none" stroke="#1c1c1c" stroke-width="1.06" stroke-linejoin="round"/>
<path d="M516.0,352.4L518.4,357.6L520.8,352.8L523.1,357.6L525.5,352.8L527.9,357.6L530.3,352.8L532.6,357.6L535.0,352.8L537.4,357.6L539.8,352.8L542.2,357.0L542.8,354.6" fill="none" stroke="#1c1c1c" stroke-width="1.06" stroke-linejoin="round" stroke-linecap="round" />
<path d="M518.4,359.3 L542.8,359.3" fill="none" stroke="#1c1c1c" stroke-width="1.06" stroke-linejoin="round" stroke-linecap="round" />
<path d="M414.4,356.7 L414.4,361.6 M414.4,361.6 L456.8,361.6" fill="none" stroke="#1c1c1c" stroke-width="0.94" stroke-linejoin="round" stroke-linecap="round" />
<path d="M400.2,350.4 L407.8,350.4 L407.8,357.2 L400.2,357.2 Z" fill="none" stroke="#1c1c1c" stroke-width="0.94" stroke-linejoin="round" stroke-linecap="round" />
<path d="M401.4,357.0 L404.8,350.6 M404.4,357.0 L407.6,351.0" fill="none" stroke="#1c1c1c" stroke-width="0.94" stroke-linejoin="round" stroke-linecap="round" />
<path d="M402.2,358.6 L412.8,358.6" fill="none" stroke="#1c1c1c" stroke-width="1.65" stroke-linejoin="round" stroke-linecap="round" />
<path d="M405.4,395.8 L426.4,395.8 L426.4,389.4" fill="none" stroke="#1c1c1c" stroke-width="1.06" stroke-linejoin="round" stroke-linecap="round" />
<clipPath id="h17"><path d="M407.6,388.4L409.2,390.3L410.7,388.4L412.3,390.3L413.9,388.4L415.4,390.3L417.0,388.4L418.6,390.3L420.1,388.4L421.7,390.3L423.3,388.4L424.8,390.3L426.4,388.4L430.8,388.4 L430.8,394.6 Q431.0,396.2 432.8,396.3 L443.4,396.3 Q445.2,396.1 445.2,394.4 L445.2,391.0 L448.6,388.2L450.2,390.1L451.8,388.2L453.5,390.1L455.1,388.2L456.7,390.1L458.3,388.2L459.9,390.1L461.5,388.2L463.1,390.1L464.8,388.2L466.4,390.1L468.0,388.2L463.6,381.3 L414.4,381.3 Z"/></clipPath>
<path d="M407.6,388.4L409.2,390.3L410.7,388.4L412.3,390.3L413.9,388.4L415.4,390.3L417.0,388.4L418.6,390.3L420.1,388.4L421.7,390.3L423.3,388.4L424.8,390.3L426.4,388.4L430.8,388.4 L430.8,394.6 Q431.0,396.2 432.8,396.3 L443.4,396.3 Q445.2,396.1 445.2,394.4 L445.2,391.0 L448.6,388.2L450.2,390.1L451.8,388.2L453.5,390.1L455.1,388.2L456.7,390.1L458.3,388.2L459.9,390.1L461.5,388.2L463.1,390.1L464.8,388.2L466.4,390.1L468.0,388.2L463.6,381.3 L414.4,381.3 Z" fill="#fff" stroke="none"/>
<path d="M395.0,385.7L434.7,346.0M398.2,388.9L437.9,349.2M401.5,392.2L441.2,352.5M404.7,395.4L444.4,355.7M408.0,398.7L447.7,359.0M411.2,401.9L450.9,362.2M414.5,405.2L454.2,365.5M417.7,408.4L457.4,368.7M421.0,411.7L460.7,372.0M424.2,414.9L463.9,375.2M427.5,418.2L467.2,378.5M430.8,421.5L470.5,381.8M434.0,424.7L473.7,385.0M437.3,428.0L477.0,388.3" clip-path="url(#h17)" fill="none" stroke="#1c1c1c" stroke-width="1.06"/>
<path d="M407.6,388.4L409.2,390.3L410.7,388.4L412.3,390.3L413.9,388.4L415.4,390.3L417.0,388.4L418.6,390.3L420.1,388.4L421.7,390.3L423.3,388.4L424.8,390.3L426.4,388.4L430.8,388.4 L430.8,394.6 Q431.0,396.2 432.8,396.3 L443.4,396.3 Q445.2,396.1 445.2,394.4 L445.2,391.0 L448.6,388.2L450.2,390.1L451.8,388.2L453.5,390.1L455.1,388.2L456.7,390.1L458.3,388.2L459.9,390.1L461.5,388.2L463.1,390.1L464.8,388.2L466.4,390.1L468.0,388.2L463.6,381.3 L414.4,381.3 Z" fill="none" stroke="#1c1c1c" stroke-width="1.06" stroke-linejoin="round"/>
<clipPath id="h18"><path d="M448.6,390.0 L448.6,398.4 Q448.8,401.2 451.6,401.3 L480.6,401.3 L484.0,396.2 L484.0,386.4 L478.0,386.4 L478.0,392.8 L471.4,392.8 L470.0,388.2L468.2,390.4L466.4,388.2L464.6,390.4L462.8,388.2L461.0,390.4L459.2,388.2L457.4,390.4L455.6,388.2L453.8,390.4L452.0,388.2L450.2,390.4 Z"/></clipPath>
<path d="M448.6,390.0 L448.6,398.4 Q448.8,401.2 451.6,401.3 L480.6,401.3 L484.0,396.2 L484.0,386.4 L478.0,386.4 L478.0,392.8 L471.4,392.8 L470.0,388.2L468.2,390.4L466.4,388.2L464.6,390.4L462.8,388.2L461.0,390.4L459.2,388.2L457.4,390.4L455.6,388.2L453.8,390.4L452.0,388.2L450.2,390.4 Z" fill="#fff" stroke="none"/>
<path d="M468.0,365.0L495.1,392.2M464.3,368.7L491.5,395.8M460.6,372.4L487.8,399.5M456.9,376.1L484.1,403.2M453.3,379.7L480.4,406.9M449.6,383.4L476.7,410.6M445.9,387.1L473.1,414.2M442.2,390.8L469.4,417.9" clip-path="url(#h18)" fill="none" stroke="#1c1c1c" stroke-width="1.06"/>
<path d="M448.6,390.0 L448.6,398.4 Q448.8,401.2 451.6,401.3 L480.6,401.3 L484.0,396.2 L484.0,386.4 L478.0,386.4 L478.0,392.8 L471.4,392.8 L470.0,388.2L468.2,390.4L466.4,388.2L464.6,390.4L462.8,388.2L461.0,390.4L459.2,388.2L457.4,390.4L455.6,388.2L453.8,390.4L452.0,388.2L450.2,390.4 Z" fill="none" stroke="#1c1c1c" stroke-width="1.06" stroke-linejoin="round"/>
<rect x="471.6" y="388.0" width="5.6" height="4.6" rx="0" fill="#fff" stroke="#1c1c1c" stroke-width="0.94"/>
<clipPath id="h19"><path d="M461.6,378.7 L461.6,381.0 L466.0,385.6 L516.0,385.6 L518.4,380.6 L518.4,378.7 Z"/></clipPath>
<path d="M461.6,378.7 L461.6,381.0 L466.0,385.6 L516.0,385.6 L518.4,380.6 L518.4,378.7 Z" fill="#fff" stroke="none"/>
<path d="M490.9,347.4L524.8,381.2M486.0,352.3L519.9,386.1M481.2,357.1L515.0,391.0M476.3,362.0L510.1,395.9M471.4,366.9L505.3,400.7M466.5,371.8L500.4,405.6M461.6,376.7L495.5,410.5M456.8,381.5L490.6,415.4" clip-path="url(#h19)" fill="none" stroke="#1c1c1c" stroke-width="1.18"/>
<path d="M461.6,378.7 L461.6,381.0 L466.0,385.6 L516.0,385.6 L518.4,380.6 L518.4,378.7 Z" fill="none" stroke="#1c1c1c" stroke-width="1.06" stroke-linejoin="round"/>
<path d="M516.0,385.6L518.4,380.4L520.8,385.2L523.1,380.4L525.5,385.2L527.9,380.4L530.3,385.2L532.6,380.4L535.0,385.2L537.4,380.4L539.8,385.2L542.2,381.0L542.8,383.4" fill="none" stroke="#1c1c1c" stroke-width="1.06" stroke-linejoin="round" stroke-linecap="round" />
<path d="M518.4,378.7 L542.8,378.7" fill="none" stroke="#1c1c1c" stroke-width="1.06" stroke-linejoin="round" stroke-linecap="round" />
<path d="M414.4,381.3 L414.4,376.4 M414.4,376.4 L456.8,376.4" fill="none" stroke="#1c1c1c" stroke-width="0.94" stroke-linejoin="round" stroke-linecap="round" />
<path d="M400.2,387.6 L407.8,387.6 L407.8,380.8 L400.2,380.8 Z" fill="none" stroke="#1c1c1c" stroke-width="0.94" stroke-linejoin="round" stroke-linecap="round" />
<path d="M401.4,381.0 L404.8,387.4 M404.4,381.0 L407.6,387.0" fill="none" stroke="#1c1c1c" stroke-width="0.94" stroke-linejoin="round" stroke-linecap="round" />
<path d="M402.2,379.4 L412.8,379.4" fill="none" stroke="#1c1c1c" stroke-width="1.65" stroke-linejoin="round" stroke-linecap="round" />
<path d="M461.6,359.3 L461.6,378.8 M542.8,354.0 L542.8,384.0" fill="none" stroke="#1c1c1c" stroke-width="1.06" stroke-linejoin="round" stroke-linecap="round" />
<clipPath id="h20"><path d="M417.0,362.2 L456.8,362.2 L456.8,376.6 L417.0,376.6 Z"/></clipPath>
<path d="M417.0,362.2 L456.8,362.2 L456.8,376.6 L417.0,376.6 Z" fill="#fff" stroke="none"/>
<path d="M437.0,340.2L466.1,369.3M434.4,342.8L463.5,371.9M431.9,345.3L461.0,374.4M429.3,347.9L458.4,377.0M426.8,350.4L455.9,379.5M424.2,353.0L453.3,382.1M421.7,355.5L450.8,384.6M419.1,358.1L448.2,387.2M416.6,360.6L445.7,389.7M414.1,363.1L443.2,392.2M411.5,365.7L440.6,394.8M409.0,368.2L438.1,397.3" clip-path="url(#h20)" fill="none" stroke="#1c1c1c" stroke-width="1.06"/>
<path d="M417.0,362.2 L456.8,362.2 L456.8,376.6 L417.0,376.6 Z" fill="none" stroke="#1c1c1c" stroke-width="1.06" stroke-linejoin="round"/>
<rect x="456.8" y="361.6" width="4.1" height="15.6" rx="0" fill="none" stroke="#1c1c1c" stroke-width="0.94"/>
<path d="M452.0,364.6 L457.0,364.6 M452.0,373.6 L457.0,373.6" fill="none" stroke="#1c1c1c" stroke-width="0.94" stroke-linejoin="round" stroke-linecap="round" />
<rect x="417.0" y="366.6" width="29.6" height="5.0" fill="#fff" stroke="#1c1c1c" stroke-width="0.7"/>
<rect x="417.0" y="366.7" width="24.0" height="4.8" fill="#1c1c1c"/>
<path d="M439,369.1 L446,369.1" fill="none" stroke="#1c1c1c" stroke-width="1.42" stroke-linejoin="round" stroke-linecap="round" />
<path d="M401.3,369.0 C401.3,362.0 404.6,359.2 409.6,359.2 L411.6,359.2 C415.8,359.2 417.4,361.6 417.4,365.4 L417.4,372.6 C417.4,376.4 415.8,378.7 411.6,378.7 L409.6,378.7 C404.6,378.7 401.3,376.0 401.3,369.0 Z" fill="#1c1c1c"/>
<path d="M551.0,367.8 L565.2,367.8" fill="none" stroke="#1c1c1c" stroke-width="2.83" stroke-linejoin="round" stroke-linecap="butt" />
<path d="M544.8,367.8 L552.0,363.6 L552.0,372.0 Z" fill="#1c1c1c"/>
<clipPath id="v21"><path d="M383.0,436.4L381.0,438.6L383.0,440.8L381.0,442.9L383.0,445.1L381.0,447.3L383.0,449.4L381.0,451.6L383.0,453.8L381.0,456.0L383.0,458.2L381.0,460.3L383.0,462.5L412.6,462.5L414.6,460.3L412.6,458.1L414.6,456.0L412.6,453.8L414.6,451.6L412.6,449.4L414.6,447.3L412.6,445.1L414.6,442.9L412.6,440.7L414.6,438.6L412.6,436.4Z"/></clipPath>
<path d="M383.0,436.4L381.0,438.6L383.0,440.8L381.0,442.9L383.0,445.1L381.0,447.3L383.0,449.4L381.0,451.6L383.0,453.8L381.0,456.0L383.0,458.2L381.0,460.3L383.0,462.5L412.6,462.5L414.6,460.3L412.6,458.1L414.6,456.0L412.6,453.8L414.6,451.6L412.6,449.4L414.6,447.3L412.6,445.1L414.6,442.9L412.6,440.7L414.6,438.6L412.6,436.4Z" fill="#e4e4e4" stroke="#1c1c1c" stroke-width="0.8" stroke-linejoin="round"/>
<path d="M381.0,437.9L414.6,436.9M381.0,440.8L414.6,439.8M381.0,443.7L414.6,442.7M381.0,446.6L414.6,445.6M381.0,449.5L414.6,448.5M381.0,452.4L414.6,451.4M381.0,455.3L414.6,454.3M381.0,458.2L414.6,457.2M381.0,461.1L414.6,460.1M381.0,464.0L414.6,463.0" clip-path="url(#v21)" fill="none" stroke="#262626" stroke-width="1.50"/>
<path d="M383.0,462.2L412.6,462.2" fill="none" stroke="#1c1c1c" stroke-width="1.3"/>
<rect x="379.6" y="462.6" width="37.0" height="4.8" rx="0" fill="#fff" stroke="#1c1c1c" stroke-width="1.06"/>
<path d="M375.5,467.6 L396.5,467.6 L398.9,469.6 L401.3,467.6 L421.8,467.6 Q423.8,467.8 423.8,469.8 L423.8,478.6 Q423.8,480.6 421.8,480.7 L401.3,480.7 L398.9,478.8 L396.5,480.7 L375.5,480.7 Q373.5,480.6 373.5,478.6 L373.5,469.8 Q373.5,467.8 375.5,467.6 Z" fill="#fff" stroke="#1c1c1c" stroke-width="1.18" stroke-linejoin="round" stroke-linecap="round" />
<path d="M398.9,469.6 L398.9,478.8" fill="none" stroke="#1c1c1c" stroke-width="1.18" stroke-linejoin="round" stroke-linecap="round" />
<rect x="379.6" y="480.8" width="37.0" height="4.8" rx="0" fill="#fff" stroke="#1c1c1c" stroke-width="1.06"/>
<clipPath id="v22"><path d="M378.8,485.8L376.8,488.2L378.8,490.6L376.8,493.1L378.8,495.5L376.8,497.9L378.8,500.4L376.8,502.8L378.8,505.2L419.2,505.2L421.2,502.8L419.2,500.4L421.2,497.9L419.2,495.5L421.2,493.1L419.2,490.6L421.2,488.2L419.2,485.8Z"/></clipPath>
<path d="M378.8,485.8L376.8,488.2L378.8,490.6L376.8,493.1L378.8,495.5L376.8,497.9L378.8,500.4L376.8,502.8L378.8,505.2L419.2,505.2L421.2,502.8L419.2,500.4L421.2,497.9L419.2,495.5L421.2,493.1L419.2,490.6L421.2,488.2L419.2,485.8Z" fill="#e4e4e4" stroke="#1c1c1c" stroke-width="0.8" stroke-linejoin="round"/>
<path d="M376.8,487.3L421.2,486.3M376.8,490.0L421.2,489.0M376.8,492.8L421.2,491.8M376.8,495.6L421.2,494.6M376.8,498.4L421.2,497.4M376.8,501.1L421.2,500.1M376.8,503.9L421.2,502.9M376.8,506.7L421.2,505.7" clip-path="url(#v22)" fill="none" stroke="#262626" stroke-width="1.50"/>
<path d="M378.8,504.9L419.2,504.9" fill="none" stroke="#1c1c1c" stroke-width="1.3"/>
<path d="M398.5,509.6 L398.5,522.0" fill="none" stroke="#1c1c1c" stroke-width="2.6" stroke-linejoin="round" stroke-linecap="butt" />
<path d="M398.6,527.8 L394.8,521.2 L402.4,521.2 Z" fill="#1c1c1c"/>
<path d="M502.9,47.4 Q503.0,46.2 504.2,46.2 L512.4,46.2 Q513.6,46.2 513.6,47.4 L513.6,94.4 Q513.6,95.7 512.4,95.7 L504.2,95.7 Q503.0,95.7 502.9,94.4 Z" fill="#fff" stroke="#1c1c1c" stroke-width="1.18" stroke-linejoin="round" stroke-linecap="round" />
<path d="M502.9,53.1 L513.6,53.1 M502.9,64.3 L513.6,64.3 M502.9,77.5 L513.6,77.5 M502.9,88.6 L513.6,88.6" fill="none" stroke="#1c1c1c" stroke-width="0.94" stroke-linejoin="round" stroke-linecap="round" />
<path d="M513.6,50.2 L516.4,50.2 L516.4,91.9 L513.6,91.9" fill="none" stroke="#666" stroke-width="0.94" stroke-linejoin="round" stroke-linecap="round" />
<path d="M554.0,55.0 L555.0,54.0 L578.2,54.0 L578.2,51.2 Q578.4,50.2 579.4,50.2 L583.8,50.2 Q584.8,50.4 584.8,51.4 L584.8,91.2 Q584.8,92.4 583.8,92.4 L579.4,92.4 Q578.2,92.4 578.2,91.2 L578.2,88.6 L555.0,88.6 L554.0,87.6 Z" fill="#1c1c1c"/>
<rect x="555.9" y="62.2" width="20.8" height="19.0" fill="#f4f4f4"/>
<path d="M556.6,81.2L557.6,62.2M559.2,81.2L560.2,62.2M561.9,81.2L562.9,62.2M564.6,81.2L565.6,62.2M567.2,81.2L568.2,62.2M569.9,81.2L570.9,62.2M572.5,81.2L573.5,62.2M575.1,81.2L576.1,62.2" stroke="#222" stroke-width="1.15" fill="none"/>
<rect x="578.0" y="65.5" width="4.4" height="11.6" fill="#fff"/>
<path d="M540.3,70.8 L543.5,70.8" fill="none" stroke="#888" stroke-width="0.94" stroke-linejoin="round" stroke-linecap="round" />
<path d="M546.9,70.8 L554.0,70.8 M582.0,70.8 L599.6,70.8" fill="none" stroke="#1c1c1c" stroke-width="0.94" stroke-linejoin="round" stroke-linecap="round" />
<path d="M310.2,108.1 L318.1,108.1 L379.6,265.0 L383.7,312.2 L374.4,329.0" fill="none" stroke="#1c1c1c" stroke-width="1.01" />
<path d="M374.4,329.0 L375.9,322.5 L379.1,324.3 Z" fill="#1c1c1c"/>
<path d="M301.4,132.6 L311.8,132.6 L365.3,272.6" fill="none" stroke="#1c1c1c" stroke-width="1.01" />
<path d="M365.3,272.6 L361.3,267.3 L364.7,266.0 Z" fill="#1c1c1c"/>
<path d="M281.8,157.4 L301.5,157.4 L322.6,334.6" fill="none" stroke="#1c1c1c" stroke-width="1.46" />
<path d="M322.6,334.6 L320.1,328.5 L323.6,328.0 Z" fill="#1c1c1c"/>
<path d="M235.4,181.2 L291.5,181.2 L300.0,357.0" fill="none" stroke="#1c1c1c" stroke-width="1.46" />
<path d="M300.0,357.0 L297.9,350.7 L301.5,350.5 Z" fill="#1c1c1c"/>
<path d="M263.0,201.8 L272.3,201.8 L272.5,332.0" fill="none" stroke="#1c1c1c" stroke-width="1.01" />
<path d="M272.5,332.0 L270.7,325.6 L274.3,325.6 Z" fill="#1c1c1c"/>
<path d="M248.8,225.8 L261.8,225.8 L261.9,337.0" fill="none" stroke="#1c1c1c" stroke-width="1.01" />
<path d="M261.9,337.0 L260.1,330.6 L263.7,330.6 Z" fill="#1c1c1c"/>
<path d="M248.4,250.3 L255.8,250.3 L256.0,352.0" fill="none" stroke="#1c1c1c" stroke-width="1.01" />
<path d="M256.0,352.0 L254.2,345.6 L257.8,345.6 Z" fill="#1c1c1c"/>
<path d="M235.6,272.2 L245.8,272.2 L246.2,344.4" fill="none" stroke="#1c1c1c" stroke-width="1.01" />
<path d="M246.2,344.4 L244.4,338.0 L248.0,338.0 Z" fill="#1c1c1c"/>
<path d="M482.5,190.0 L456.3,190.0 L418.7,239.0" fill="none" stroke="#1c1c1c" stroke-width="1.01" />
<path d="M418.7,239.0 L421.2,232.8 L424.0,235.0 Z" fill="#1c1c1c"/>
<path d="M482.5,211.2 L466.6,211.2 L420.9,277.6" fill="none" stroke="#1c1c1c" stroke-width="1.01" />
<path d="M420.9,277.6 L423.0,271.3 L426.0,273.3 Z" fill="#1c1c1c"/>
<path d="M482.5,240.8 L464.6,240.8 L382.6,345.6" fill="none" stroke="#1c1c1c" stroke-width="1.01" />
<path d="M382.6,345.6 L385.1,339.5 L388.0,341.7 Z" fill="#1c1c1c"/>
<path d="M488.7,265.3 L480.0,265.3 L415.4,355.6" fill="none" stroke="#1c1c1c" stroke-width="1.01" />
<path d="M415.4,355.6 L418.5,347.3 L422.2,350.0 Z" fill="#1c1c1c"/>
<path d="M484.2,293.0 L470.3,293.0 L444.4,340.6" fill="none" stroke="#1c1c1c" stroke-width="1.01" />
<path d="M444.4,340.6 L445.9,334.1 L449.0,335.8 Z" fill="#1c1c1c"/>
<path d="M481.3,319.7 L476.9,319.7 L455.6,360.6" fill="none" stroke="#1c1c1c" stroke-width="1.01" />
<path d="M455.6,360.6 L457.0,354.1 L460.2,355.8 Z" fill="#1c1c1c"/>
<path d="M515.4,406.7 L508.7,406.7 L496.6,386.2" fill="none" stroke="#1c1c1c" stroke-width="1.01" />
<path d="M496.6,386.2 L502.3,391.7 L498.7,393.8 Z" fill="#1c1c1c"/>
<path d="M490.4,427.9 L481.0,427.9 L465.8,402.2" fill="none" stroke="#1c1c1c" stroke-width="1.01" />
<path d="M465.8,402.2 L471.5,407.7 L467.9,409.8 Z" fill="#1c1c1c"/>
<path d="M482.9,444.8 L440.4,444.8 L405.6,381.6" fill="none" stroke="#1c1c1c" stroke-width="1.01" />
<path d="M405.6,381.6 L411.4,387.5 L407.5,389.7 Z" fill="#1c1c1c"/>
<path d="M490.8,477.0 L441.5,477.0 L380.0,373.0" fill="none" stroke="#1c1c1c" stroke-width="1.01" />
<path d="M380.0,373.0 L384.8,377.6 L381.7,379.4 Z" fill="#1c1c1c"/>
<path d="M468.7,498.9 L451.0,498.9 L371.8,432.5" fill="none" stroke="#1c1c1c" stroke-width="1.01" />
<path d="M371.8,432.5 L379.0,435.8 L376.3,439.0 Z" fill="#1c1c1c"/>
<path d="M476.0,522.9 L452.3,522.9 L418.8,504.0" fill="none" stroke="#1c1c1c" stroke-width="1.01" />
<path d="M418.8,504.0 L426.5,505.9 L424.4,509.6 Z" fill="#1c1c1c"/>
<path d="M227.2,474.5 L234.0,474.5 L267.5,415.4" fill="none" stroke="#1c1c1c" stroke-width="1.01" />
<path d="M267.5,415.4 L265.9,421.9 L262.8,420.1 Z" fill="#1c1c1c"/>
<path d="M227.4,493.6 L246.3,493.6 L334.5,386.6" fill="none" stroke="#1c1c1c" stroke-width="1.01" />
<path d="M334.5,386.6 L331.8,392.7 L329.0,390.4 Z" fill="#1c1c1c"/>
<path d="M229.6,511.3 L250.7,511.3 L352.7,404.6" fill="none" stroke="#1c1c1c" stroke-width="1.01" />
<path d="M352.7,404.6 L349.6,410.5 L347.0,408.0 Z" fill="#1c1c1c"/>
<path d="M232.3,529.7 L255.6,529.7 L332.0,441.9 L390.8,417.3 L378.8,405.0" fill="none" stroke="#1c1c1c" stroke-width="1.01" />
<path d="M378.8,405.0 L384.6,408.3 L382.0,410.8 Z" fill="#1c1c1c"/>
<path d="M345.0,436.4 L359.6,411.6" fill="none" stroke="#1c1c1c" stroke-width="1.01" />
<path d="M359.6,411.6 L357.9,418.0 L354.8,416.2 Z" fill="#1c1c1c"/>
<path d="M235.3,548.5 L300.6,548.5 L348.2,463.4" fill="none" stroke="#1c1c1c" stroke-width="1.01" />
<path d="M348.2,463.4 L346.6,469.9 L343.5,468.1 Z" fill="#1c1c1c"/>
<path d="M267.5,569.3 L308.0,569.3 L366.6,464.6" fill="none" stroke="#1c1c1c" stroke-width="1.01" />
<path d="M366.6,464.6 L365.0,471.1 L361.9,469.3 Z" fill="#1c1c1c"/>
<text x="151.8" y="69.2" textLength="79.4" lengthAdjust="spacingAndGlyphs" font-family="'Liberation Sans', sans-serif" font-size="10.3" font-weight="bold" fill="#1c1c1c" stroke="#1c1c1c" stroke-width="0.3">83-2571 GAUGE</text>
<text x="151.8" y="82.6" textLength="100.0" lengthAdjust="spacingAndGlyphs" font-family="'Liberation Sans', sans-serif" font-size="10.3" font-weight="bold" fill="#1c1c1c" stroke="#1c1c1c" stroke-width="0.3">83-2052 LENS (only)</text>
<path d="M247.9,56.6 L260.2,56.6 L260.2,87.3 L247.9,87.3" fill="none" stroke="#1c1c1c" stroke-width="1.12" />
<path d="M260.2,71.6 L310.0,71.6 L351.5,105.2" fill="none" stroke="#1c1c1c" stroke-width="1.12" />
<path d="M354.6,107.6 L349.3,105.5 L351.4,102.8 Z" fill="#1c1c1c"/>
<text transform="translate(221.4,111.4) scale(1.06,1)" x="0" y="0" textLength="36.6" lengthAdjust="spacing" font-family="'Liberation Sans', sans-serif" font-size="10.9" fill="#1c1c1c" stroke="#1c1c1c" stroke-width="0.62">84-388</text>
<text transform="translate(267.0,111.4) scale(0.87,1)" x="0" y="0" textLength="46.8" lengthAdjust="spacing" font-family="'Liberation Sans', sans-serif" font-size="10.6" fill="#1c1c1c" stroke="#1c1c1c" stroke-width="0.85">GASKET</text>
<text transform="translate(211.6,136.9) scale(1.06,1)" x="0" y="0" textLength="37.0" lengthAdjust="spacing" font-family="'Liberation Sans', sans-serif" font-size="10.9" fill="#1c1c1c" stroke="#1c1c1c" stroke-width="0.62">84-463</text>
<text transform="translate(258.2,136.9) scale(0.87,1)" x="0" y="0" textLength="47.4" lengthAdjust="spacing" font-family="'Liberation Sans', sans-serif" font-size="10.6" fill="#1c1c1c" stroke="#1c1c1c" stroke-width="0.85">GASKET</text>
<text x="199.8" y="162.4" textLength="74.4" lengthAdjust="spacingAndGlyphs" font-family="'Liberation Sans', sans-serif" font-size="10.3" font-weight="bold" fill="#1c1c1c" stroke="#1c1c1c" stroke-width="0.3">84-452 SPRING</text>
<text x="274.15" y="160.00" font-family="'DejaVu Sans', sans-serif" font-size="8.4" fill="#1c1c1c">◆</text>
<text x="161.3" y="186.2" textLength="64.1" lengthAdjust="spacingAndGlyphs" font-family="'Liberation Sans', sans-serif" font-size="10.3" font-weight="bold" fill="#1c1c1c" stroke="#1c1c1c" stroke-width="0.3">84-324 STEM</text>
<text x="225.35" y="183.80" font-family="'DejaVu Sans', sans-serif" font-size="8.4" fill="#1c1c1c">◆</text>
<text x="159.3" y="207.3" textLength="95.3" lengthAdjust="spacingAndGlyphs" font-family="'Liberation Sans', sans-serif" font-size="10.3" font-weight="bold" fill="#1c1c1c" stroke="#1c1c1c" stroke-width="0.3">84-326 FOLLOWER</text>
<text x="254.55" y="204.90" font-family="'DejaVu Sans', sans-serif" font-size="8.4" fill="#1c1c1c">◆</text>
<text x="158.1" y="231.8" textLength="80.6" lengthAdjust="spacingAndGlyphs" font-family="'Liberation Sans', sans-serif" font-size="10.3" font-weight="bold" fill="#1c1c1c" stroke="#1c1c1c" stroke-width="0.3">84-323 WASHER</text>
<text x="238.65" y="229.40" font-family="'DejaVu Sans', sans-serif" font-size="8.4" fill="#1c1c1c">◆</text>
<text x="187.0" y="254.6" textLength="52.9" lengthAdjust="spacingAndGlyphs" font-family="'Liberation Sans', sans-serif" font-size="10.3" font-weight="bold" fill="#1c1c1c" stroke="#1c1c1c" stroke-width="0.3">33-190 PIN</text>
<text x="239.85" y="252.20" font-family="'DejaVu Sans', sans-serif" font-size="8.4" fill="#1c1c1c">◆</text>
<text x="154.0" y="276.9" textLength="71.9" lengthAdjust="spacingAndGlyphs" font-family="'Liberation Sans', sans-serif" font-size="10.3" font-weight="bold" fill="#1c1c1c" stroke="#1c1c1c" stroke-width="0.3">84-322 SCREW</text>
<text x="225.85" y="274.50" font-family="'DejaVu Sans', sans-serif" font-size="8.4" fill="#1c1c1c">◆</text>
<text x="110.3" y="238.1" textLength="32.3" lengthAdjust="spacingAndGlyphs" font-family="'Liberation Sans', sans-serif" font-size="10.3" font-weight="bold" fill="#1c1c1c" stroke="#1c1c1c" stroke-width="0.3">84-325</text>
<text x="142.55" y="235.70" font-family="'DejaVu Sans', sans-serif" font-size="8.4" fill="#1c1c1c">◆</text>
<text x="111.5" y="251.4" textLength="32.6" lengthAdjust="spacingAndGlyphs" font-family="'Liberation Sans', sans-serif" font-size="10.3" font-weight="bold" fill="#1c1c1c" stroke="#1c1c1c" stroke-width="0.3">ASS’Y.</text>
<path d="M105.4,241.3 L153.5,241.3" fill="none" stroke="#1c1c1c" stroke-width="1.12" />
<path d="M179.0,175.3 L153.5,175.3 L153.5,256.2 L176.5,256.2" fill="none" stroke="#1c1c1c" stroke-width="1.12" />
<text x="547.1" y="33.7" textLength="54.4" lengthAdjust="spacingAndGlyphs" font-family="'Liberation Sans', sans-serif" font-size="9.7" font-weight="bold" fill="#1c1c1c" stroke="#1c1c1c" stroke-width="0.3">AIR INLET</text>
<text x="547.1" y="45.6" textLength="49.5" lengthAdjust="spacingAndGlyphs" font-family="'Liberation Sans', sans-serif" font-size="9.7" font-weight="bold" fill="#1c1c1c" stroke="#1c1c1c" stroke-width="0.3">1/8 NPT(f)</text>
<text x="485.8" y="108.9" textLength="38.0" lengthAdjust="spacingAndGlyphs" font-family="'Liberation Sans', sans-serif" font-size="9.3" font-weight="bold" fill="#1c1c1c" stroke="#1c1c1c" stroke-width="0.3">20-4456</text>
<text x="524.53" y="105.62" font-family="'DejaVu Sans', sans-serif" font-size="5.4" fill="#1c1c1c">■</text>
<text x="485.8" y="120.8" textLength="51.4" lengthAdjust="spacingAndGlyphs" font-family="'Liberation Sans', sans-serif" font-size="9.3" font-weight="bold" fill="#1c1c1c" stroke="#1c1c1c" stroke-width="0.3">LOCKNUT</text>
<text x="551.1" y="108.9" textLength="32.0" lengthAdjust="spacingAndGlyphs" font-family="'Liberation Sans', sans-serif" font-size="9.3" font-weight="bold" fill="#1c1c1c" stroke="#1c1c1c" stroke-width="0.3">84-460</text>
<text x="583.83" y="105.62" font-family="'DejaVu Sans', sans-serif" font-size="5.4" fill="#1c1c1c">■</text>
<text x="551.1" y="120.8" textLength="28.3" lengthAdjust="spacingAndGlyphs" font-family="'Liberation Sans', sans-serif" font-size="9.3" font-weight="bold" fill="#1c1c1c" stroke="#1c1c1c" stroke-width="0.3">BODY</text>
<path d="M543.2,29.8 L523.4,29.8 L551.2,66.6" fill="none" stroke="#1c1c1c" stroke-width="1.23" />
<path d="M552.6,68.4 L548.7,65.7 L551.1,63.9 Z" fill="#1c1c1c"/>
<path d="M477.9,99.6 L477.9,129.9 L597.5,129.9 L597.5,99.6" fill="none" stroke="#1c1c1c" stroke-width="1.23" />
<path d="M597.5,114.0 L674.4,114.0 L674.4,165.3 L649.7,165.3" fill="none" stroke="#1c1c1c" stroke-width="1.57" />
<text x="430.0" y="144.2" textLength="18.4" lengthAdjust="spacing" font-family="'Liberation Sans', sans-serif" font-size="9.7" font-weight="normal" fill="#1c1c1c" stroke="#1c1c1c" stroke-width="0.35">AIR</text>
<text x="455.1" y="144.2" textLength="31.0" lengthAdjust="spacing" font-family="'Liberation Sans', sans-serif" font-size="9.7" font-weight="normal" fill="#1c1c1c" stroke="#1c1c1c" stroke-width="0.35">INLET</text>
<text x="492.8" y="144.2" textLength="49.5" lengthAdjust="spacing" font-family="'Liberation Sans', sans-serif" font-size="9.7" font-weight="normal" fill="#1c1c1c" stroke="#1c1c1c" stroke-width="0.35">ADAPTER</text>
<text x="548.5" y="144.2" textLength="19.2" lengthAdjust="spacing" font-family="'Liberation Sans', sans-serif" font-size="9.7" font-weight="normal" fill="#1c1c1c" stroke="#1c1c1c" stroke-width="0.35">SET</text>
<text x="573.0" y="144.2" textLength="13.3" lengthAdjust="spacing" font-family="'Liberation Sans', sans-serif" font-size="9.7" font-weight="normal" fill="#1c1c1c" stroke="#1c1c1c" stroke-width="0.35">for</text>
<text x="592.0" y="144.2" textLength="47.4" lengthAdjust="spacing" font-family="'Liberation Sans', sans-serif" font-size="9.7" font-weight="normal" fill="#1c1c1c" stroke="#1c1c1c" stroke-width="0.35">converting</text>
<text x="644.8" y="144.2" textLength="21.6" lengthAdjust="spacing" font-family="'Liberation Sans', sans-serif" font-size="9.7" font-weight="normal" fill="#1c1c1c" stroke="#1c1c1c" stroke-width="0.35">from</text>
<text x="430.0" y="156.6" textLength="84.4" lengthAdjust="spacing" font-family="'Liberation Sans', sans-serif" font-size="9.7" font-weight="normal" fill="#1c1c1c" stroke="#1c1c1c" stroke-width="0.35">manually-operated</text>
<text x="520.6" y="156.6" textLength="32.9" lengthAdjust="spacing" font-family="'Liberation Sans', sans-serif" font-size="9.7" font-weight="normal" fill="#1c1c1c" stroke="#1c1c1c" stroke-width="0.35">control</text>
<text x="559.2" y="156.6" textLength="8.5" lengthAdjust="spacing" font-family="'Liberation Sans', sans-serif" font-size="9.7" font-weight="normal" fill="#1c1c1c" stroke="#1c1c1c" stroke-width="0.35">to</text>
<text x="573.9" y="156.6" textLength="31.9" lengthAdjust="spacing" font-family="'Liberation Sans', sans-serif" font-size="9.7" font-weight="normal" fill="#1c1c1c" stroke="#1c1c1c" stroke-width="0.35">remote</text>
<text x="611.1" y="156.6" textLength="55.3" lengthAdjust="spacing" font-family="'Liberation Sans', sans-serif" font-size="9.7" font-weight="normal" fill="#1c1c1c" stroke="#1c1c1c" stroke-width="0.35">air-operated</text>
<text x="430.0" y="168.7" textLength="34.3" lengthAdjust="spacing" font-family="'Liberation Sans', sans-serif" font-size="9.7" font-weight="normal" fill="#1c1c1c" stroke="#1c1c1c" stroke-width="0.35">control.</text>
<text x="470.2" y="168.7" textLength="15.9" lengthAdjust="spacing" font-family="'Liberation Sans', sans-serif" font-size="9.7" font-weight="normal" fill="#1c1c1c" stroke="#1c1c1c" stroke-width="0.35">Not</text>
<text x="490.2" y="168.7" textLength="43.2" lengthAdjust="spacing" font-family="'Liberation Sans', sans-serif" font-size="9.7" font-weight="normal" fill="#1c1c1c" stroke="#1c1c1c" stroke-width="0.35">furnished.</text>
<text x="536.2" y="168.7" textLength="31.0" lengthAdjust="spacing" font-family="'Liberation Sans', sans-serif" font-size="9.7" font-weight="normal" fill="#1c1c1c" stroke="#1c1c1c" stroke-width="0.35">Please</text>
<text x="570.0" y="168.7" textLength="23.4" lengthAdjust="spacing" font-family="'Liberation Sans', sans-serif" font-size="9.7" font-weight="normal" fill="#1c1c1c" stroke="#1c1c1c" stroke-width="0.35">order</text>
<text x="597.5" y="168.7" textLength="49.0" lengthAdjust="spacing" font-family="'Liberation Sans', sans-serif" font-size="9.7" font-weight="normal" fill="#1c1c1c" stroke="#1c1c1c" stroke-width="0.35">separately.</text>
<text x="485.5" y="192.1" textLength="102.0" lengthAdjust="spacingAndGlyphs" font-family="'Liberation Sans', sans-serif" font-size="10.3" font-weight="bold" fill="#1c1c1c" stroke="#1c1c1c" stroke-width="0.3">84-348 CONNECTOR</text>
<text x="485.5" y="213.5" textLength="65.5" lengthAdjust="spacingAndGlyphs" font-family="'Liberation Sans', sans-serif" font-size="10.3" font-weight="bold" fill="#1c1c1c" stroke="#1c1c1c" stroke-width="0.3">84-319 BODY</text>
<text x="485.5" y="244.1" textLength="91.5" lengthAdjust="spacingAndGlyphs" font-family="'Liberation Sans', sans-serif" font-size="10.3" font-weight="bold" fill="#1c1c1c" stroke="#1c1c1c" stroke-width="0.3">84-467 RETAINER</text>
<text transform="translate(491.1,269.5) scale(1.06,1)" x="0" y="0" textLength="39.3" lengthAdjust="spacing" font-family="'Liberation Sans', sans-serif" font-size="11.3" fill="#1c1c1c" stroke="#1c1c1c" stroke-width="0.62">84-469</text>
<text transform="translate(540.9,269.5) scale(0.87,1)" x="0" y="0" textLength="36.9" lengthAdjust="spacing" font-family="'Liberation Sans', sans-serif" font-size="10.6" fill="#1c1c1c" stroke="#1c1c1c" stroke-width="0.85">VALVE</text>
<text x="487.4" y="295.8" textLength="67.2" lengthAdjust="spacingAndGlyphs" font-family="'Liberation Sans', sans-serif" font-size="10.0" font-weight="normal" fill="#1c1c1c" stroke="#1c1c1c" stroke-width="0.7">84-337 INLET</text>
<text transform="translate(485.0,323.0) scale(1.06,1)" x="0" y="0" textLength="37.0" lengthAdjust="spacing" font-family="'Liberation Sans', sans-serif" font-size="11.100000000000001" fill="#1c1c1c" stroke="#1c1c1c" stroke-width="0.62">84-470</text>
<text transform="translate(536.0,323.0) scale(0.87,1)" x="0" y="0" textLength="23.1" lengthAdjust="spacing" font-family="'Liberation Sans', sans-serif" font-size="10.6" fill="#1c1c1c" stroke="#1c1c1c" stroke-width="0.85">CAP</text>
<text x="569.3" y="366.5" textLength="66.2" lengthAdjust="spacingAndGlyphs" font-family="'Liberation Sans', sans-serif" font-size="10.4" font-weight="normal" fill="#1c1c1c" stroke="#1c1c1c" stroke-width="0.45">UNREGULATED</text>
<text x="570.5" y="376.8" textLength="23.5" lengthAdjust="spacingAndGlyphs" font-family="'Liberation Sans', sans-serif" font-size="10.4" font-weight="normal" fill="#1c1c1c" stroke="#1c1c1c" stroke-width="0.45">FLUID</text>
<text x="599.6" y="376.8" textLength="26.8" lengthAdjust="spacingAndGlyphs" font-family="'Liberation Sans', sans-serif" font-size="10.4" font-weight="normal" fill="#1c1c1c" stroke="#1c1c1c" stroke-width="0.45">INLET</text>
<text x="520.8" y="410.2" textLength="90.7" lengthAdjust="spacingAndGlyphs" font-family="'Liberation Sans', sans-serif" font-size="9.8" font-weight="normal" fill="#1c1c1c" stroke="#1c1c1c" stroke-width="0.7">84-318 TAILPIECE</text>
<text transform="translate(493.3,432.1) scale(1.06,1)" x="0" y="0" textLength="34.2" lengthAdjust="spacing" font-family="'Liberation Sans', sans-serif" font-size="10.700000000000001" fill="#1c1c1c" stroke="#1c1c1c" stroke-width="0.62">72-337</text>
<text transform="translate(536.9,432.1) scale(0.87,1)" x="0" y="0" textLength="42.9" lengthAdjust="spacing" font-family="'Liberation Sans', sans-serif" font-size="10.4" fill="#1c1c1c" stroke="#1c1c1c" stroke-width="0.85">SWIVEL</text>
<text transform="translate(579.6,432.1) scale(0.87,1)" x="0" y="0" textLength="23.4" lengthAdjust="spacing" font-family="'Liberation Sans', sans-serif" font-size="10.4" fill="#1c1c1c" stroke="#1c1c1c" stroke-width="0.85">NUT</text>
<text transform="translate(486.1,448.6) scale(1.06,1)" x="0" y="0" textLength="39.1" lengthAdjust="spacing" font-family="'Liberation Sans', sans-serif" font-size="11.100000000000001" fill="#1c1c1c" stroke="#1c1c1c" stroke-width="0.62">84-468</text>
<text transform="translate(536.9,448.6) scale(0.87,1)" x="0" y="0" textLength="30.3" lengthAdjust="spacing" font-family="'Liberation Sans', sans-serif" font-size="10.6" fill="#1c1c1c" stroke="#1c1c1c" stroke-width="0.85">SEAT</text>
<text transform="translate(494.4,481.3) scale(1.06,1)" x="0" y="0" textLength="35.5" lengthAdjust="spacing" font-family="'Liberation Sans', sans-serif" font-size="10.9" fill="#1c1c1c" stroke="#1c1c1c" stroke-width="0.62">84-395</text>
<text transform="translate(536.9,481.3) scale(0.87,1)" x="0" y="0" textLength="22.8" lengthAdjust="spacing" font-family="'Liberation Sans', sans-serif" font-size="10.4" fill="#1c1c1c" stroke="#1c1c1c" stroke-width="0.85">ROD</text>
<text transform="translate(471.9,502.9) scale(1.06,1)" x="0" y="0" textLength="35.8" lengthAdjust="spacing" font-family="'Liberation Sans', sans-serif" font-size="10.9" fill="#1c1c1c" stroke="#1c1c1c" stroke-width="0.62">84-399</text>
<text transform="translate(517.7,502.9) scale(0.87,1)" x="0" y="0" textLength="70.2" lengthAdjust="spacing" font-family="'Liberation Sans', sans-serif" font-size="10.4" fill="#1c1c1c" stroke="#1c1c1c" stroke-width="0.85">DIAPHRAGM</text>
<text x="481.0" y="526.4" textLength="78.4" lengthAdjust="spacingAndGlyphs" font-family="'Liberation Sans', sans-serif" font-size="9.9" font-weight="normal" fill="#1c1c1c" stroke="#1c1c1c" stroke-width="0.7">83-2055 NIPPLE</text>
<text transform="translate(137.7,478.8) scale(1.06,1)" x="0" y="0" textLength="36.0" lengthAdjust="spacing" font-family="'Liberation Sans', sans-serif" font-size="11.100000000000001" fill="#1c1c1c" stroke="#1c1c1c" stroke-width="0.62">84-321</text>
<text transform="translate(183.8,478.8) scale(0.87,1)" x="0" y="0" textLength="48.4" lengthAdjust="spacing" font-family="'Liberation Sans', sans-serif" font-size="10.6" fill="#1c1c1c" stroke="#1c1c1c" stroke-width="0.85">BONNET</text>
<text x="145.7" y="497.2" textLength="76.8" lengthAdjust="spacingAndGlyphs" font-family="'Liberation Sans', sans-serif" font-size="10.3" font-weight="normal" fill="#1c1c1c" stroke="#1c1c1c" stroke-width="0.7">84-333 SOCKET</text>
<text transform="translate(163.6,515.1) scale(1.06,1)" x="0" y="0" textLength="35.2" lengthAdjust="spacing" font-family="'Liberation Sans', sans-serif" font-size="11.100000000000001" fill="#1c1c1c" stroke="#1c1c1c" stroke-width="0.62">84-331</text>
<text transform="translate(207.1,515.1) scale(0.87,1)" x="0" y="0" textLength="23.1" lengthAdjust="spacing" font-family="'Liberation Sans', sans-serif" font-size="10.6" fill="#1c1c1c" stroke="#1c1c1c" stroke-width="0.85">NUT</text>
<text transform="translate(160.5,533.5) scale(1.06,1)" x="0" y="0" textLength="37.5" lengthAdjust="spacing" font-family="'Liberation Sans', sans-serif" font-size="11.100000000000001" fill="#1c1c1c" stroke="#1c1c1c" stroke-width="0.62">84-306</text>
<text transform="translate(206.6,533.5) scale(0.87,1)" x="0" y="0" textLength="25.3" lengthAdjust="spacing" font-family="'Liberation Sans', sans-serif" font-size="10.6" fill="#1c1c1c" stroke="#1c1c1c" stroke-width="0.85">DISC</text>
<text x="142.1" y="551.9" textLength="76.3" lengthAdjust="spacingAndGlyphs" font-family="'Liberation Sans', sans-serif" font-size="10.2" font-weight="normal" fill="#1c1c1c" stroke="#1c1c1c" stroke-width="0.7">20-3699 SCREW</text>
<text x="219.39" y="549.65" font-family="'DejaVu Sans', sans-serif" font-size="6.2" fill="#1c1c1c">●</text>
<text transform="translate(152.8,573.3) scale(1.06,1)" x="0" y="0" textLength="37.2" lengthAdjust="spacing" font-family="'Liberation Sans', sans-serif" font-size="11.100000000000001" fill="#1c1c1c" stroke="#1c1c1c" stroke-width="0.62">84-330</text>
<text transform="translate(200.1,573.3) scale(0.87,1)" x="0" y="0" textLength="72.6" lengthAdjust="spacing" font-family="'Liberation Sans', sans-serif" font-size="10.6" fill="#1c1c1c" stroke="#1c1c1c" stroke-width="0.85">DIAPHRAGM</text>
<text x="373.8" y="536.6" textLength="54.9" lengthAdjust="spacingAndGlyphs" font-family="'Liberation Sans', sans-serif" font-size="9.7" font-weight="normal" fill="#1c1c1c" stroke="#1c1c1c" stroke-width="0.45">REGULATED</text>
<text x="367.7" y="545.7" textLength="25.2" lengthAdjust="spacingAndGlyphs" font-family="'Liberation Sans', sans-serif" font-size="9.7" font-weight="normal" fill="#1c1c1c" stroke="#1c1c1c" stroke-width="0.45">FLUID</text>
<text x="399.0" y="545.7" textLength="36.8" lengthAdjust="spacingAndGlyphs" font-family="'Liberation Sans', sans-serif" font-size="9.7" font-weight="normal" fill="#1c1c1c" stroke="#1c1c1c" stroke-width="0.45">OUTLET</text>
<text x="181.3" y="429.5" textLength="31.9" lengthAdjust="spacingAndGlyphs" font-family="'Liberation Sans', sans-serif" font-size="9.2" font-weight="bold" fill="#1c1c1c" stroke="#1c1c1c" stroke-width="0.3">84-340</text>
<text x="213.60" y="427.00" font-family="'DejaVu Sans', sans-serif" font-size="8.0" fill="#1c1c1c">◆</text>
<text x="181.3" y="440.0" textLength="20.2" lengthAdjust="spacingAndGlyphs" font-family="'Liberation Sans', sans-serif" font-size="9.2" font-weight="bold" fill="#1c1c1c" stroke="#1c1c1c" stroke-width="0.3">KEY</text>
</g>
<path d="M661.5,224.0 L661.5,240.6 L590.0,240.6" fill="none" stroke="#4a4a4a" stroke-width="1.34" />
<path d="M581.8,240.6 L593.3,237.8 L590.1,240.6 L593.3,243.4 Z" fill="#1c1c1c"/>
<path d="M72.3,470.1 L99.3,510.3 L150.0,510.3" fill="none" stroke="#1c1c1c" stroke-width="1.12" />
<path d="M158.2,510.3 L146.7,507.5 L149.9,510.3 L146.7,513.1 Z" fill="#1c1c1c"/>
<path d="M114.5,549.0 L130.0,549.0" fill="none" stroke="#4a4a4a" stroke-width="1.34" />
<path d="M138.5,549.0 L127.0,546.2 L130.2,549.0 L127.0,551.8 Z" fill="#1c1c1c"/>
</svg>
<div class="tq" style="left:608.75px;top:186.05px;width:105.40px;height:38.50px;"><p style="top:5.19px;line-height:13px;">Torque to 150-160<br>inch pounds</p></div>
<div class="tq" style="left:19.85px;top:432.05px;width:105.30px;height:38.60px;"><p style="top:5.19px;line-height:13px;">Torque to 150-160<br>inch pounds</p></div>
<div class="tq" style="left:19.85px;top:528.85px;width:95.20px;height:38.40px;"><p style="top:5.39px;line-height:13px;">Torque to 35-45<br>inch pounds</p></div>
</body>
</html>
